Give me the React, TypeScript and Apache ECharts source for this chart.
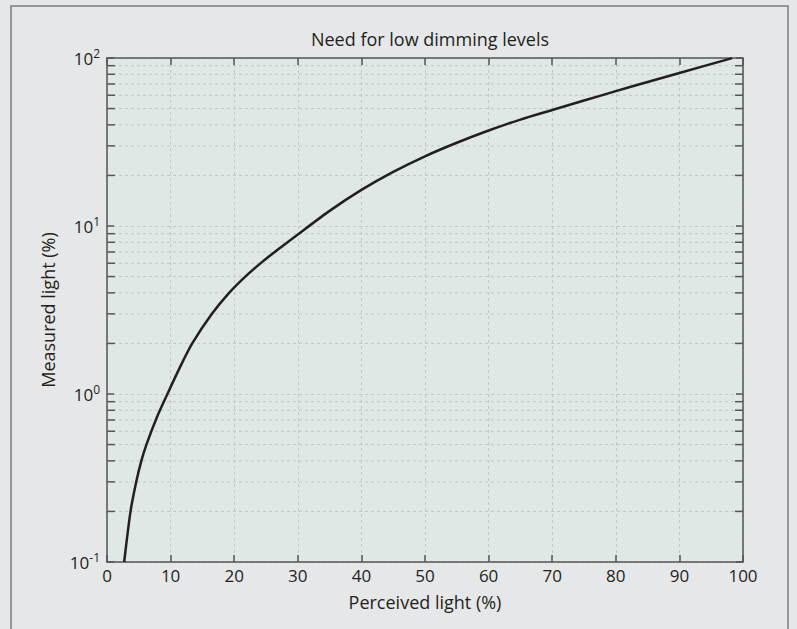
import React, { useEffect, useRef } from "react";
import * as echarts from "echarts";

const TITLE = "Need for low dimming levels";
const X_NAME = "Perceived light (%)";
const Y_NAME = "Measured light (%)";

// perceived light (%)
const perceived = [2.7, 3.7, 4.6, 5.4, 6.2, 7.8, 9.5, 11.5, 13.4, 16.5, 19.2, 22.0, 24.6, 27.3, 30.0, 35.0, 40.0, 45.0, 50.0, 55.0, 60.0, 65.0, 70.0, 75.0, 80.0, 85.0, 90.0, 98.3];
// measured light (%)
const measured = [0.1, 0.2, 0.3, 0.4, 0.5, 0.72, 1.0, 1.45, 2.0, 3.0, 4.0, 5.1, 6.2, 7.45, 8.9, 12.3, 16.4, 21.0, 26.0, 31.3, 37.0, 43.0, 49.0, 55.8, 63.5, 72.0, 81.5, 99.8];

const xTicks = [0, 10, 20, 30, 40, 50, 60, 70, 80, 90, 100];
const yDecades = [0.1, 1, 10, 100];
const yMinor = [0.2, 0.3, 0.4, 0.5, 0.6, 0.7, 0.8, 0.9, 2, 3, 4, 5, 6, 7, 8, 9, 20, 30, 40, 50, 60, 70, 80, 90];

const FONT = "Open Sans";
const TXT = "#231f20";
const AXIS = "#555555";
const GRIDC = "#c2c6c5";

export default function App() {
  const ref = useRef<HTMLDivElement>(null);
  useEffect(() => {
    if (!ref.current) return;
    const chart = echarts.init(ref.current, null, { renderer: "svg" });
    const axisCommon = {
      axisLine: { show: true, onZero: false, lineStyle: { color: AXIS, width: 1.5 } },
      axisTick: { show: true, inside: true, length: 7, lineStyle: { color: AXIS, width: 1.5 } },
    };
    chart.setOption({
      animation: false,
      backgroundColor: "#e6e7e9",
      textStyle: { fontFamily: FONT },
      title: {
        text: TITLE,
        left: 425,
        top: 25,
        textAlign: "center",
        textStyle: { fontFamily: FONT, fontSize: 18, fontWeight: "normal", color: TXT },
      },
      graphic: [
        {
          type: "rect",
          z: -10,
          shape: { x: 11, y: 6, width: 777, height: 660 },
          style: { fill: "none", stroke: "#7d7d7d", lineWidth: 1.5 },
          silent: true,
        },
      ],
      grid: {
        left: 107,
        right: 54,
        top: 58,
        bottom: 67,
        show: true,
        backgroundColor: "#dfe8e4",
        borderWidth: 0,
      },
      xAxis: [
        {
          type: "value",
          min: 0,
          max: 100,
          interval: 10,
          position: "bottom",
          name: X_NAME,
          nameLocation: "middle",
          nameGap: 31,
          nameTextStyle: { fontFamily: FONT, fontSize: 18, color: TXT },
          ...axisCommon,
          axisLabel: {
            fontFamily: FONT,
            fontSize: 17,
            color: TXT,
            margin: 5,
            formatter: (v: number) => (xTicks.includes(v) ? String(v) : ""),
          },
          splitLine: { show: true, lineStyle: { color: GRIDC, type: [3, 3], width: 1 } },
        },
        {
          type: "value",
          min: 0,
          max: 100,
          interval: 10,
          position: "top",
          ...axisCommon,
          axisLabel: { show: false },
          splitLine: { show: false },
        },
      ],
      yAxis: [
        {
          type: "log",
          logBase: 10,
          min: yDecades[0],
          max: yDecades[yDecades.length - 1],
          position: "left",
          name: Y_NAME,
          nameLocation: "middle",
          nameGap: 50,
          nameTextStyle: { fontFamily: FONT, fontSize: 18, color: TXT },
          ...axisCommon,
          axisLabel: {
            margin: 7,
            formatter: (v: number) => `{b|10}{s|${Math.round(Math.log10(v))}}`,
            rich: {
              b: { fontFamily: FONT, fontSize: 17, color: TXT },
              s: { fontFamily: FONT, fontSize: 12, color: TXT, verticalAlign: "bottom", padding: [0, 0, 10, 0] },
            },
          },
          splitLine: { show: true, lineStyle: { color: GRIDC, type: [3, 3], width: 1 } },
        },
        {
          type: "log",
          logBase: 10,
          min: yDecades[0],
          max: yDecades[yDecades.length - 1],
          position: "right",
          ...axisCommon,
          axisLabel: { show: false },
          splitLine: { show: false },
        },
      ],
      series: [
        {
          type: "custom",
          xAxisIndex: 0,
          yAxisIndex: 0,
          z: 1,
          silent: true,
          clip: false,
          data: yMinor.map((v) => [0, v]),
          renderItem: (params: any, api: any) => {
            const v = api.value(1);
            const p0 = api.coord([0, v]);
            const p1 = api.coord([100, v]);
            return {
              type: "group",
              children: [
                {
                  type: "line",
                  shape: { x1: p0[0], y1: p0[1], x2: p1[0], y2: p1[1] },
                  style: { stroke: GRIDC, lineWidth: 1, lineDash: [3, 3] },
                },
                {
                  type: "line",
                  shape: { x1: p0[0], y1: p0[1], x2: p0[0] + 8, y2: p0[1] },
                  style: { stroke: AXIS, lineWidth: 1.5 },
                },
                {
                  type: "line",
                  shape: { x1: p1[0] - 8, y1: p1[1], x2: p1[0], y2: p1[1] },
                  style: { stroke: AXIS, lineWidth: 1.5 },
                },
              ],
            };
          },
        },
        {
          type: "line",
          xAxisIndex: 0,
          yAxisIndex: 0,
          z: 5,
          showSymbol: false,
          smooth: 0.25,
          lineStyle: { color: TXT, width: 2.5, join: "round" },
          data: perceived.map((x, i) => [x, measured[i]]),
        },
      ],
    });
    return () => chart.dispose();
  }, []);
  return (
    <div
      ref={ref}
      style={{ position: "fixed", left: 0, top: 0, width: 797, height: 629 }}
    />
  );
}
